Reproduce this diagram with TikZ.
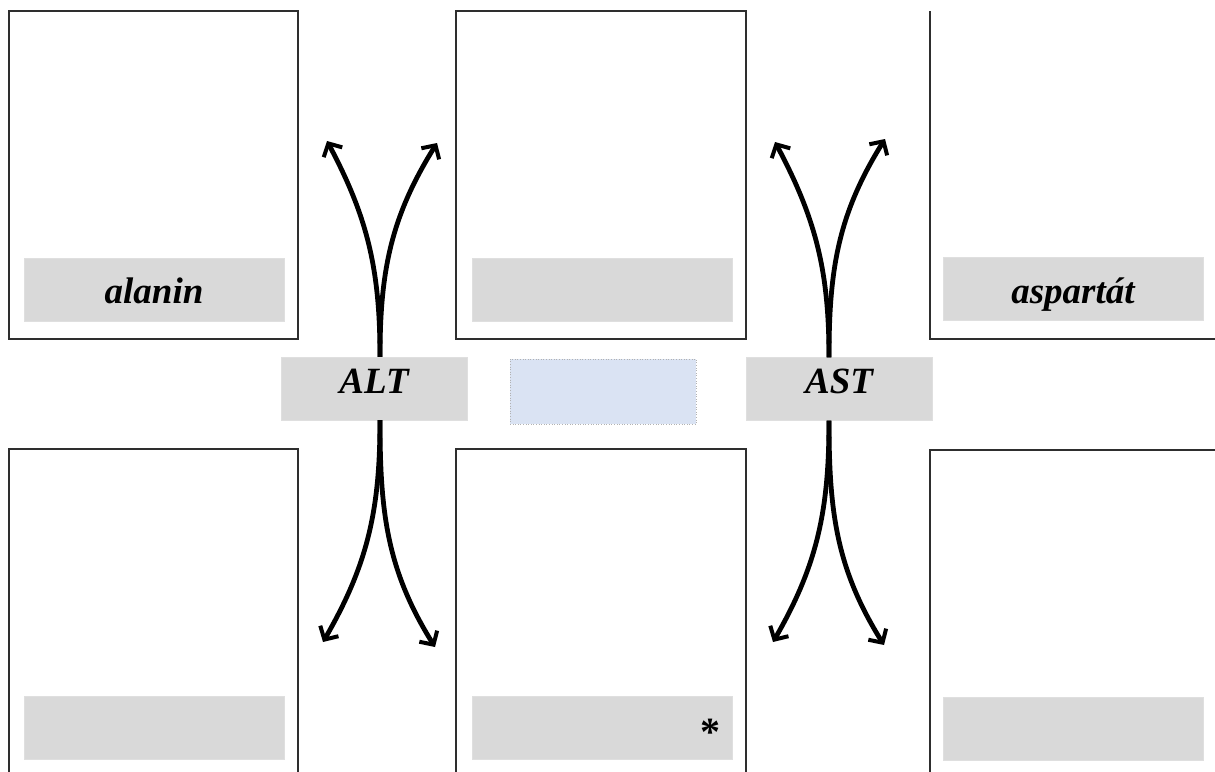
\documentclass[tikz,border=0pt]{standalone}
\usepackage{fontspec}
\setmainfont{Liberation Serif}
\usetikzlibrary{arrows.meta}
\definecolor{lgray}{HTML}{D9D9D9}
\definecolor{lblue}{HTML}{DAE3F3}
\definecolor{frame}{HTML}{2E2E2E}
\begin{document}
\begin{tikzpicture}[x=1pt,y=-1pt,
  card/.style={draw=frame,line width=1.2pt,fill=white,inner sep=0pt},
  lab/.style={fill=lgray,draw=lgray!85!white,line width=0.4pt,minimum width=260pt,minimum height=63pt,inner sep=0pt,
    text height=20pt,text depth=10pt,
    font=\fontsize{37}{40}\selectfont\bfseries\itshape},
  enz/.style={fill=lgray,draw=lgray!85!white,line width=0.4pt,minimum width=186pt,minimum height=63pt,inner sep=0pt,
    text height=20pt,text depth=10pt,
    font=\fontsize{37}{40}\selectfont\bfseries\itshape},
  arr/.style={line width=4.8pt,-{Straight Barb[length=10pt,width=21pt,line width=4pt]}}]
\useasboundingbox (0,0) rectangle (1215,771);
\clip (0,0) rectangle (1215,771);
% cards
\node[card,minimum width=289pt,minimum height=328pt] (c1) at (153.5,175) {};
\node[card,minimum width=290pt,minimum height=328pt] (c2) at (601,175) {};
\draw[frame,line width=1.2pt] (930,11) -- (930,339) -- (1230,339);
\node[card,minimum width=289pt,minimum height=360pt] (c4) at (153.5,629) {};
\node[card,minimum width=290pt,minimum height=360pt] (c5) at (601,629) {};
\draw[frame,line width=1.2pt] (930,790) -- (930,450) -- (1230,450);
% labels
\node[lab,text height=30pt,text depth=3pt] (l1) at (154,289.5) {alanin};
\node[lab] (l2) at (602,289.5) {};
\node[lab,text height=31pt,text depth=2pt] (l3) at (1073,289) {aspartát};
\node[lab] (l4) at (154,728) {};
\node[lab] (l5) at (602,728) {};
\node[lab] (l6) at (1073,729) {};
\node[font=\fontsize{40}{40}\selectfont\bfseries,anchor=base,inner sep=0pt] (star) at (710,745) {*};
% middle row
\node[enz] (alt) at (374,388.5) {ALT};
\node[fill=lblue,draw=gray!60,dotted,line width=0.6pt,minimum width=186pt,minimum height=65pt,inner sep=0pt] (mid) at (603,391.5) {};
\node[enz,text height=20pt,text depth=12pt] (ast) at (839,389) {AST};
% arrow tips
\coordinate (a1) at (327,141);
\coordinate (a2) at (437,143);
\coordinate (a3) at (323,642);
\coordinate (a4) at (435,647);
\coordinate (b1) at (775,142);
\coordinate (b2) at (885,139);
\coordinate (b3) at (773,642);
\coordinate (b4) at (884,645);
% arrows
\draw[arr] ([xshift=6pt]alt.north) to[out=90,in=-62] (a1);
\draw[arr] ([xshift=6pt]alt.north) to[out=90,in=-122] (a2);
\draw[arr] ([xshift=6pt]alt.south) to[out=-90,in=60] (a3);
\draw[arr] ([xshift=6pt]alt.south) to[out=-90,in=122] (a4);
\draw[arr] ([xshift=-10pt]ast.north) to[out=90,in=-62] (b1);
\draw[arr] ([xshift=-10pt]ast.north) to[out=90,in=-122] (b2);
\draw[arr] ([xshift=-10pt]ast.south) to[out=-90,in=60] (b3);
\draw[arr] ([xshift=-10pt]ast.south) to[out=-90,in=122] (b4);
\end{tikzpicture}
\end{document}
